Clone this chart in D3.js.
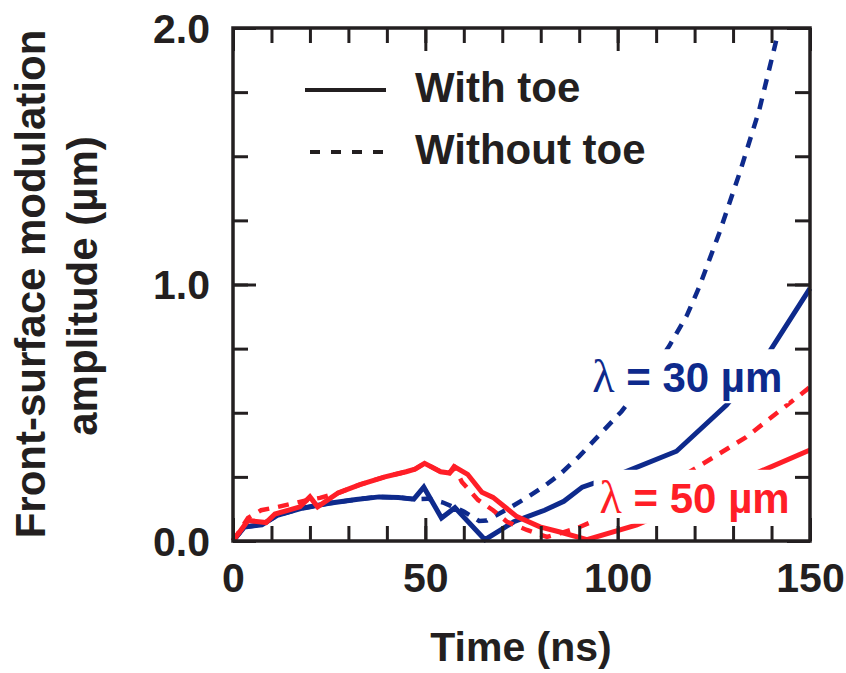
<!DOCTYPE html>
<html>
<head>
<meta charset="utf-8">
<script src="https://cdn.jsdelivr.net/npm/d3@7"></script>
<style>
  body { margin: 0; background: #fff; }
  text { font-family: "Liberation Sans", Arial, Helvetica, sans-serif; font-weight: bold; fill: #231f20; }
</style>
</head>
<body>
<div id="chart"></div>
<script>
const width = 846;
const height = 673;

const ink = "#231f20";
const blue = "#0e2a8c";
const red = "#ff1e27";
const fontSize = 41;

// lambda = 30 um, with toe (solid blue)
const t30With = [0, 3, 7.5, 11.5, 18, 25, 32, 38, 43, 47, 49.6, 54.2, 57.7, 65.5, 73, 81, 86, 90.8, 100.4, 115.3, 128.3, 138.7, 150];
const a30With = [0, 0.055, 0.063, 0.1, 0.128, 0.147, 0.162, 0.172, 0.17, 0.163, 0.21, 0.09, 0.13, 0.005, 0.075, 0.12, 0.155, 0.21, 0.26, 0.35, 0.53, 0.72, 0.985];

// lambda = 30 um, without toe (dashed blue)
const t30Without = [0, 3, 7.5, 11.5, 18, 25, 32, 38, 43, 47, 50.5, 54.6, 60, 64, 66, 72, 77, 81, 85, 90, 95, 101, 107, 113.4, 118, 121.2, 126.4, 131.6, 136.8, 141.2];
const a30Without = [0, 0.055, 0.063, 0.1, 0.128, 0.147, 0.162, 0.172, 0.17, 0.163, 0.165, 0.15, 0.115, 0.078, 0.08, 0.13, 0.175, 0.215, 0.26, 0.33, 0.41, 0.505, 0.62, 0.76, 0.88, 0.99, 1.2, 1.43, 1.68, 1.95];

// lambda = 50 um, with toe (solid red)
const t50With = [0, 3.9, 8.6, 10.9, 17.4, 20, 22, 27.3, 33, 39.5, 45, 47.3, 49.8, 54, 56.3, 57.5, 61, 64.7, 67.6, 73.8, 79.8, 85, 92, 105, 150];
const a50With = [0, 0.08, 0.072, 0.105, 0.133, 0.172, 0.133, 0.187, 0.22, 0.25, 0.27, 0.28, 0.303, 0.27, 0.265, 0.29, 0.26, 0.19, 0.17, 0.095, 0.055, 0.035, 0.005, 0.063, 0.355];

// lambda = 50 um, without toe (dashed red)
const t50Without = [0, 3.9, 7.3, 11.7, 16, 19.5, 22.6, 27.3, 33, 39.5, 45, 47.3, 49.8, 54, 56.3, 57.7, 59.5, 63.7, 67.6, 71.2, 76.4, 81.6, 85, 89.4, 98.8, 111, 120.4, 133.4, 150];
const a50Without = [0, 0.09, 0.12, 0.133, 0.148, 0.16, 0.168, 0.187, 0.22, 0.25, 0.27, 0.28, 0.303, 0.27, 0.265, 0.285, 0.23, 0.16, 0.12, 0.075, 0.043, 0.016, 0.03, 0.05, 0.11, 0.2, 0.285, 0.405, 0.6];

const xMajor = [0, 50, 100, 150];
const xMinor = d3.range(0, 151, 10);
const yMajor = [0, 1, 2];
const yMinor = d3.range(0, 2.01, 0.25);

const legendLabels = ["With toe", "Without toe"];
const curveLabels = ["30 µm", "50 µm"];

var svg = d3.select("#chart").append("svg")
  .attr("width", width)
  .attr("height", height)
  .style("background", "#fff");

var x = d3.scaleLinear().domain([0, 150]).range([233, 810]);
var y = d3.scaleLinear().domain([0, 2]).range([541, 28]);

var line = d3.line()
  .x((d) => x(d[0]))
  .y((d) => y(d[1]));

function pairs(ts, vs) {
  return ts.map((t, i) => [t, vs[i]]);
}

var series = [
  { pts: pairs(t30Without, a30Without), color: blue, dash: "11,9", w: 4.5 },
  { pts: pairs(t30With, a30With), color: blue, dash: null, w: 5 },
  { pts: pairs(t50Without, a50Without), color: red, dash: "11,9", w: 4.5 },
  { pts: pairs(t50With, a50With), color: red, dash: null, w: 5 }
];

svg.selectAll("path.series").data(series).enter().append("path")
  .attr("class", "series")
  .attr("d", (d) => line(d.pts))
  .attr("fill", "none")
  .attr("stroke", (d) => d.color)
  .attr("stroke-width", (d) => d.w)
  .attr("stroke-dasharray", (d) => d.dash)
  .attr("stroke-linejoin", "miter");

// curve labels with white boxes behind
var labelSpots = [
  { text: curveLabels[0], color: blue, t: 93.4, v: 0.58 },
  { text: curveLabels[1], color: red, t: 95.3, v: 0.11 }
];
labelSpots.forEach((d) => {
  var g = svg.append("g");
  var box = g.append("rect").attr("fill", "#fff");
  var txt = g.append("text")
    .attr("x", x(d.t))
    .attr("y", y(d.v))
    .style("font-size", "42px")
    .style("fill", d.color);
  txt.append("tspan")
    .style("font-family", "'Liberation Serif', 'DejaVu Serif', serif")
    .style("font-weight", "normal")
    .style("font-size", "46px")
    .text("λ");
  txt.append("tspan").text(" = " + d.text);
  var bb = txt.node().getBBox();
  box.attr("x", bb.x - 6).attr("y", bb.y - 2)
    .attr("width", bb.width + 12).attr("height", bb.height + 3);
});

// axes: ticks point inward on all four sides
function tickStyle(g) {
  g.select(".domain").remove();
  g.selectAll(".tick line").attr("stroke", ink).attr("stroke-width", 3);
  g.selectAll(".tick text")
    .style("font-size", fontSize + "px")
    .attr("fill", ink);
}

svg.append("g").attr("transform", "translate(0,541)")
  .call(d3.axisBottom(x).tickValues(xMinor).tickSize(-15).tickFormat(""))
  .call(tickStyle);
svg.append("g").attr("transform", "translate(0,541)")
  .call(d3.axisBottom(x).tickValues(xMajor).tickSize(-23).tickPadding(22).tickFormat(d3.format("d")))
  .call(tickStyle);
svg.append("g").attr("transform", "translate(0,28)")
  .call(d3.axisTop(x).tickValues(xMinor).tickSize(-15).tickFormat(""))
  .call(tickStyle);
svg.append("g").attr("transform", "translate(0,28)")
  .call(d3.axisTop(x).tickValues(xMajor).tickSize(-23).tickFormat(""))
  .call(tickStyle);

svg.append("g").attr("transform", "translate(233,0)")
  .call(d3.axisLeft(y).tickValues(yMinor).tickSize(-15).tickFormat(""))
  .call(tickStyle);
svg.append("g").attr("transform", "translate(233,0)")
  .call(d3.axisLeft(y).tickValues(yMajor).tickSize(-23).tickPadding(23).tickFormat(d3.format(".1f")))
  .call(tickStyle)
  .selectAll(".tick text").attr("dy", "0.35em");
svg.append("g").attr("transform", "translate(810,0)")
  .call(d3.axisRight(y).tickValues(yMinor).tickSize(-15).tickFormat(""))
  .call(tickStyle);
svg.append("g").attr("transform", "translate(810,0)")
  .call(d3.axisRight(y).tickValues(yMajor).tickSize(-23).tickFormat(""))
  .call(tickStyle);

// frame
svg.append("rect")
  .attr("x", 233).attr("y", 28)
  .attr("width", 577).attr("height", 513)
  .attr("fill", "none")
  .attr("stroke", ink)
  .attr("stroke-width", 3.5);

// axis titles
svg.append("text")
  .attr("x", 521).attr("y", 661)
  .attr("text-anchor", "middle")
  .style("font-size", fontSize + "px")
  .text("Time (ns)");

svg.append("text")
  .attr("transform", "translate(45,284) rotate(-90)")
  .attr("text-anchor", "middle")
  .style("font-size", "42px")
  .text("Front-surface modulation");
svg.append("text")
  .attr("transform", "translate(97,286) rotate(-90)")
  .attr("text-anchor", "middle")
  .style("font-size", "42px")
  .text("amplitude (µm)");

// legend
var legend = svg.append("g");
legendLabels.forEach((lab, i) => {
  var ly = 90 + i * 62;
  legend.append("line")
    .attr("x1", 305).attr("x2", 386)
    .attr("y1", ly).attr("y2", ly)
    .attr("stroke", ink)
    .attr("stroke-width", 4)
    .attr("stroke-dasharray", i === 0 ? null : "10,11")
    .attr("transform", i === 0 ? null : "translate(5,0)");
  legend.append("text")
    .attr("x", 415).attr("y", ly + 12)
    .style("font-size", "42px")
    .text(lab);
});
</script>
</body>
</html>
